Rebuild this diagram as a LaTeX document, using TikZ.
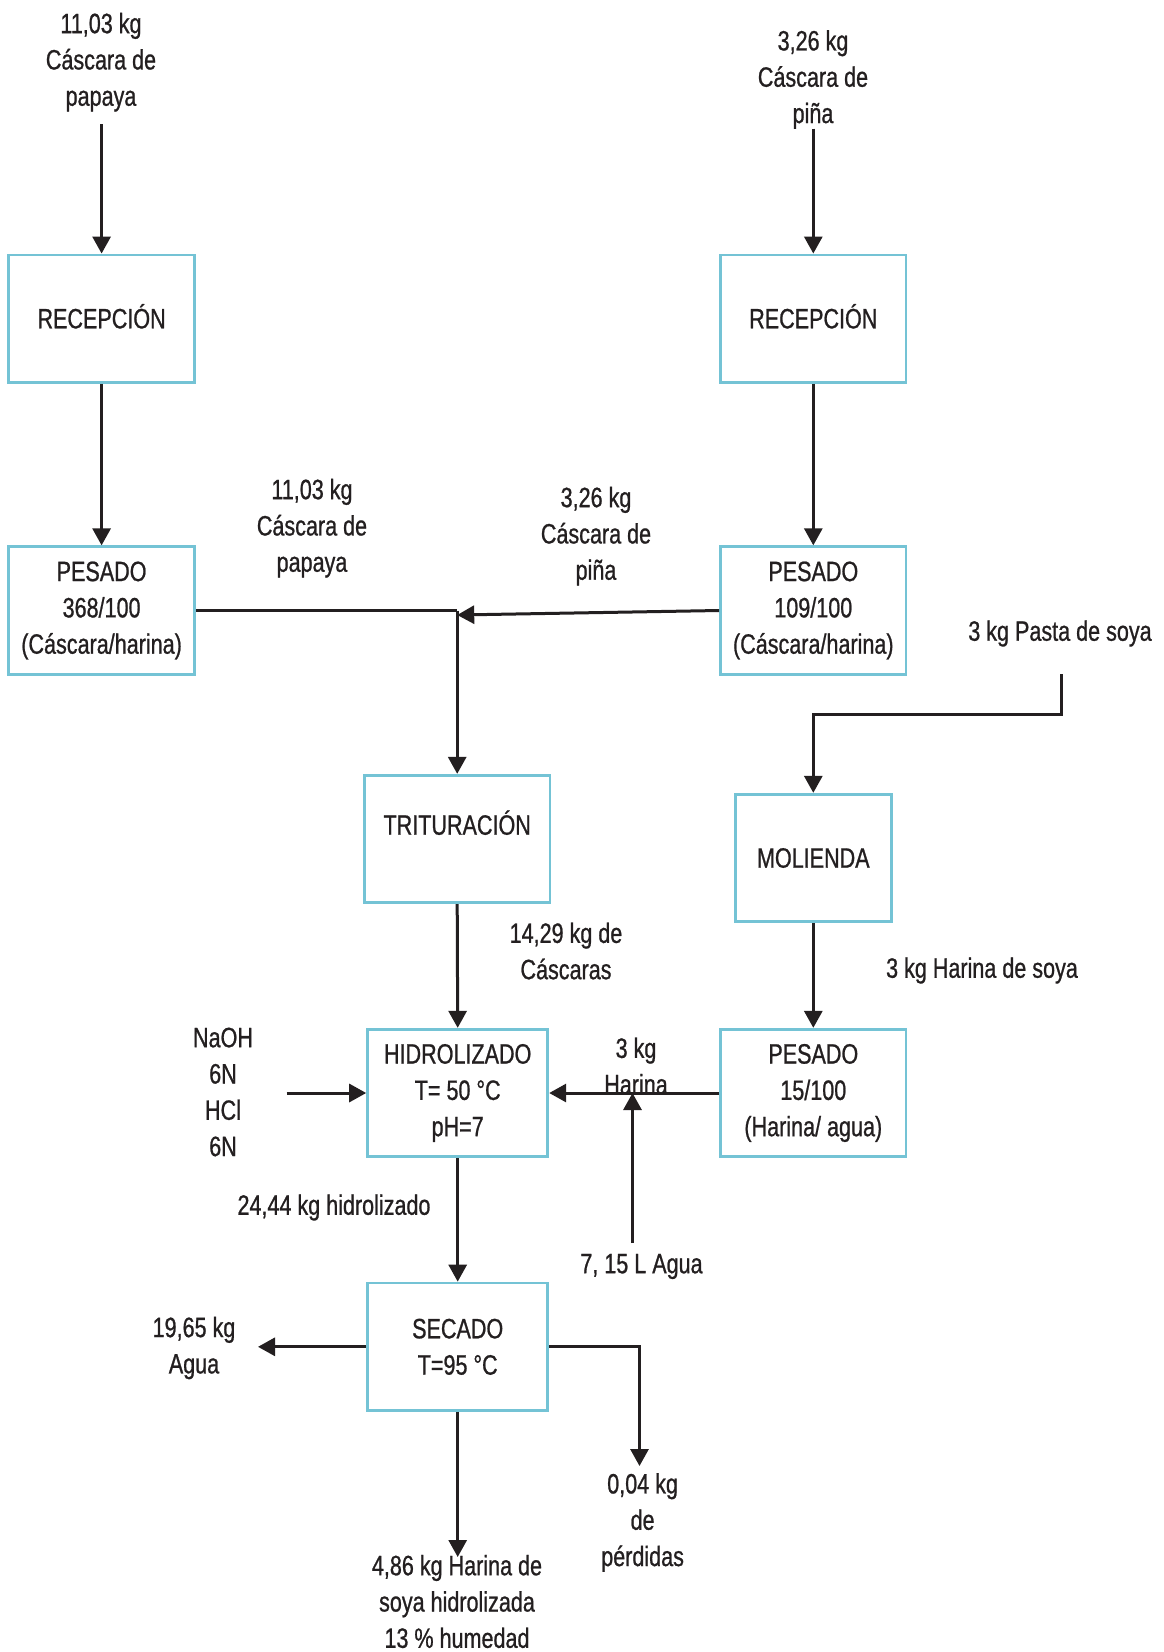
\documentclass[tikz,border=0pt]{standalone}
\usepackage{fontspec}
\setmainfont{Liberation Sans}[FakeStretch=0.77,FakeBold=0.8]
\usetikzlibrary{arrows.meta}
\definecolor{boxc}{RGB}{116,195,213}
\definecolor{ink}{RGB}{35,31,32}
\begin{document}
\begin{tikzpicture}[x=1pt,y=-1pt,
  every node/.style={font=\fontsize{28}{36.3}\selectfont, text=ink, align=center, inner sep=0pt},
  stage/.style={draw=boxc, line width=2.8pt, minimum height=127.5pt},
  note/.style={yshift=-2.5pt},
  flow/.style={draw=ink, line width=3pt, -{Triangle[length=17pt,width=18pt]}},
  link/.style={draw=ink, line width=3pt}]
\fill[white] (0,0) rectangle (1163,1652);
\useasboundingbox (0,0) rectangle (1163,1652);

% process stages
\node[stage, minimum width=186.5pt] (recL) at (101.6,318.7) {RECEPCI\smash{Ó}N};
\node[stage, minimum width=185.5pt] (recR) at (813.3,318.7) {RECEPCI\smash{Ó}N};
\node[stage, minimum width=186.5pt] (pesL) at (101.6,610.5) {PESADO\\368/100\\(Cáscara/harina)\rule[-3pt]{0pt}{3pt}};
\node[stage, minimum width=185.5pt] (pesR) at (813.3,610.5) {PESADO\\109/100\\(Cáscara/harina)\rule[-3pt]{0pt}{3pt}};
\node[stage, minimum width=185.4pt] (trit) at (457.2,839) {};
\node (tritT) at (457.2,822.7) {TRITURACIÓN};
\node[stage, minimum width=156pt] (mol) at (813.3,858) {MOLIENDA};
\node[stage, minimum width=180.2pt] (hid) at (457.7,1093) {HIDROLIZADO\\T= 50 °C\\pH=7};
\node[stage, minimum width=185.5pt] (pes3) at (813.3,1093) {PESADO\\15/100\\(Harina/ agua)\rule[-3pt]{0pt}{3pt}};
\node[stage, minimum width=180.2pt] (sec) at (457.7,1346.8) {SECADO\\T=95 °C};

% stream labels
\node[note] (inPap) at (101,59.7) {11,03 kg\\Cáscara de\\papaya};
\node[note] (inPin) at (813,77) {3,26 kg\\Cáscara de\\piña};
\node[note] (lbPap) at (312,525.7) {11,03 kg\\Cáscara de\\papaya};
\node[note] (lbPin) at (596,533.7) {3,26 kg\\Cáscara de\\piña};
\node[note] (inSoy) at (1060,631) {3 kg Pasta de soya};
\node[note] (lbCas) at (566,948.5) {14,29 kg de\\Cáscaras};
\node[note] (lbHar) at (982,968) {3 kg Harina de soya};
\node (inChem) at (223,1092) {NaOH\\6N\\HCl\\6N};
\node[note] (lbHar3) at (636,1063.5) {3 kg\\Harina};
\node[note] (inAgua) at (641.5,1264) {7, 15 L Agua};
\node[note] (lbHid) at (334,1205) {24,44 kg hidrolizado};
\node[note] (outAgua) at (194,1345.5) {19,65 kg\\Agua};
\node[note] (outPer) at (642.6,1520) {0,04 kg\\de\\pérdidas};
\node[note] (outProd) at (457,1599) {4,86 kg Harina de\\soya hidrolizada\\13 \% humedad};

% connector end points
\coordinate (sPap) at (101.6,124);
\coordinate (sPin) at (813.3,128.5);
\coordinate (jMix) at (457.2,610.5);
\coordinate (jPin) at (457.2,615);
\coordinate (sSoy) at (1061,674);
\coordinate (kSoy1) at (1061,714);
\coordinate (kSoy2) at (813.3,714);
\coordinate (sChem) at (286.5,1093);
\coordinate (sAgua) at (632.5,1243);
\coordinate (tAgua) at (632.5,1093);
\coordinate (eAgua) at (258,1346.8);
\coordinate (kPer) at (639.5,1346.8);
\coordinate (ePer) at (639.5,1466);
\coordinate (eProd) at (457.7,1557);

% flows
\draw[flow] (sPap) -- (recL.north);
\draw[flow] (sPin) -- (recR.north);
\draw[flow] (recL.south) -- (pesL.north);
\draw[flow] (recR.south) -- (pesR.north);
\draw[link] (pesL.east) -- (jMix);
\draw[flow] (pesR.west) -- (jPin);
\draw[flow] (jMix) -- (trit.north);
\draw[flow] (sSoy) -- (kSoy1) -- (kSoy2) -- (mol.north);
\draw[flow] (trit.south) -- (hid.north);
\draw[flow] (mol.south) -- (pes3.north);
\draw[flow] (sChem) -- (hid.west);
\draw[flow] (pes3.west) -- (hid.east);
\draw[flow] (sAgua) -- (tAgua);
\draw[flow] (hid.south) -- (sec.north);
\draw[flow] (sec.west) -- (eAgua);
\draw[flow] (sec.east) -- (kPer) -- (ePer);
\draw[flow] (sec.south) -- (eProd);
\end{tikzpicture}
\end{document}
